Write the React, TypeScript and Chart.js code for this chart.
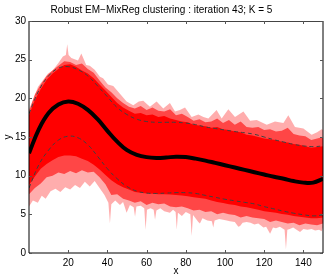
import React, { useEffect, useRef } from 'react';
import { Chart, registerables } from 'chart.js';

Chart.register(...registerables);

const TITLE = 'Robust EM\u2212MixReg clustering : iteration 43; K = 5';
const X_LABEL = 'x';
const Y_LABEL = 'y';
const X_TICKS = [20, 40, 60, 80, 100, 120, 140];
const Y_TICKS = [0, 5, 10, 15, 20, 25, 30];

// mean curve (thick black)
const meanX = [0, 5, 10, 15, 20, 25, 30, 35, 40, 45, 50, 55, 60, 65, 70, 75, 80, 85, 90, 95, 100, 105, 110, 115, 120, 125, 130, 135, 140, 145, 150];
const meanY = [12.9, 16.0, 18.1, 19.2, 19.6, 19.3, 18.5, 17.3, 15.8, 14.4, 13.3, 12.7, 12.4, 12.3, 12.35, 12.45, 12.4, 12.2, 11.95, 11.65, 11.35, 11.05, 10.75, 10.45, 10.15, 9.85, 9.6, 9.3, 9.1, 9.1, 9.6];

// upper / lower dashed bounds
const boundX = [0, 5, 10, 15, 20, 25, 30, 35, 40, 45, 50, 55, 60, 65, 70, 75, 80, 85, 90, 95, 100, 105, 110, 115, 120, 125, 130, 135, 140, 145, 150];
const upperY = [18.0, 21.0, 22.9, 23.9, 24.1, 23.7, 22.9, 21.6, 20.2, 18.8, 17.9, 17.3, 17.0, 16.9, 16.9, 16.9, 16.8, 16.6, 16.3, 16.1, 15.9, 15.7, 15.55, 15.35, 15.0, 14.65, 14.35, 14.05, 13.85, 13.75, 13.85];
const lowerY = [8.4, 11.4, 13.3, 14.6, 15.1, 14.9, 14.0, 12.5, 10.9, 9.6, 8.6, 8.0, 7.75, 7.7, 7.75, 7.8, 7.8, 7.7, 7.45, 7.2, 6.95, 6.75, 6.55, 6.35, 6.0, 5.7, 5.4, 5.15, 4.95, 4.8, 4.9];

// dense red core of the curves
const coreX = [0, 3, 6, 9, 12, 15, 18, 21, 24, 27, 30, 33, 36, 39, 42, 45, 48, 51, 54, 57, 60, 63, 66, 69, 72, 75, 78, 81, 84, 87, 90, 93, 96, 99, 102, 105, 108, 111, 114, 117, 120, 123, 126, 129, 132, 135, 138, 141, 144, 147, 150];
const coreTopY = [17.8, 19.8, 21.2, 22.4, 23.2, 23.8, 24.3, 24.4, 24.1, 23.6, 23.2, 22.6, 21.8, 21.0, 20.2, 19.4, 18.8, 18.4, 18.0, 18.1, 17.8, 17.9, 17.6, 17.7, 17.4, 17.2, 17.0, 16.9, 16.6, 16.5, 16.4, 16.2, 16.3, 16.0, 15.9, 15.7, 15.6, 15.3, 15.2, 15.0, 14.8, 14.7, 14.6, 14.4, 14.3, 14.1, 14.0, 13.8, 13.6, 13.7, 13.8];
const coreBotY = [8.8, 9.9, 10.9, 11.5, 12.0, 12.4, 12.6, 12.6, 12.5, 12.2, 11.9, 11.4, 10.8, 10.1, 9.4, 8.9, 8.5, 8.2, 7.9, 7.8, 7.7, 7.65, 7.6, 7.6, 7.55, 7.5, 7.45, 7.35, 7.2, 7.1, 7.0, 6.8, 6.6, 6.45, 6.3, 6.2, 6.0, 5.9, 5.75, 5.6, 5.4, 5.3, 5.2, 5.05, 4.95, 4.8, 4.7, 4.6, 4.5, 4.5, 4.6];

// medium-density band
const midTopY = [18.3, 20.5, 21.8, 22.9, 23.6, 24.2, 24.8, 24.7, 24.3, 24.5, 23.8, 23.3, 22.3, 21.4, 20.8, 20.0, 19.4, 18.9, 18.7, 19.0, 18.5, 18.8, 18.4, 18.3, 18.6, 17.8, 18.0, 17.6, 17.1, 17.3, 16.9, 17.0, 17.4, 16.8, 17.2, 16.6, 17.0, 16.3, 16.2, 16.3, 15.9, 16.0, 15.7, 15.8, 16.2, 15.4, 15.2, 15.1, 14.6, 14.8, 15.0];
const midBotY = [7.6, 8.4, 9.0, 9.8, 10.0, 10.4, 10.2, 10.6, 10.3, 10.7, 10.4, 10.5, 9.8, 8.9, 7.5, 7.6, 7.0, 6.8, 6.5, 6.7, 6.2, 6.5, 6.3, 6.4, 6.0, 5.9, 6.0, 5.8, 5.5, 5.6, 5.3, 5.4, 5.0, 5.2, 5.0, 4.9, 4.6, 4.8, 4.6, 4.5, 4.4, 4.0, 4.2, 4.0, 3.8, 3.9, 3.6, 3.8, 3.7, 3.6, 3.8];

// sparse outer envelope (upper edge)
const outerTopX = [0, 2, 4.6, 7, 9.7, 12, 14.8, 17.3, 18.8, 19.5, 20.2, 21.6, 25, 26.7, 29.2, 31, 33.5, 36.2, 37.8, 40.3, 43, 46.4, 49.8, 53.2, 56, 58.3, 61.7, 65.1, 68.5, 71.9, 74.5, 77, 79.6, 83, 86.4, 89, 91.5, 95.7, 98.3, 101.7, 105.1, 109.4, 112.8, 116.2, 121.3, 125.5, 129.8, 132.3, 135.7, 140, 144.2, 147, 149.3, 150];
const outerTopY = [18.6, 19.8, 21.5, 22.3, 23.2, 23.6, 24.5, 25.4, 25.6, 27.0, 25.6, 25.2, 24.9, 25.8, 24.3, 24.2, 23.7, 22.8, 22.6, 21.8, 21.6, 20.6, 19.6, 19.1, 19.6, 19.7, 18.9, 19.6, 18.7, 19.4, 18.3, 18.5, 18.8, 17.6, 17.9, 17.6, 17.4, 18.5, 17.4, 18.6, 17.6, 18.3, 17.1, 17.2, 16.6, 17.0, 16.8, 17.8, 16.3, 16.1, 15.3, 15.6, 16.0, 15.9];

// sparse outer envelope (lower edge, with the deepest dips)
const outerBotX = [0, 2, 4.5, 6.5, 8.5, 11, 13.5, 16, 18.5, 21, 23.5, 26, 28.5, 31, 33.5, 36, 38.5, 40.5, 41.3, 42, 44, 46.4, 48, 49.8, 51.5, 53.4, 54.1, 54.8, 57, 58.8, 59.5, 60.2, 62, 63.6, 64.3, 65, 67, 69, 71.9, 73.5, 74.8, 75.4, 76, 78, 80, 82.3, 83, 83.7, 86.4, 87.2, 88.5, 91, 93.3, 94, 94.7, 97, 99, 100.9, 102.5, 105, 106.8, 107.7, 109, 111, 113, 115, 117, 119.6, 121, 123, 124.5, 126, 128, 130.4, 131.1, 131.8, 133, 134.8, 136.5, 138.3, 140, 142, 144.2, 146, 148, 149.3, 150];
const outerBotY = [6.0, 6.8, 6.5, 7.4, 7.0, 8.0, 8.3, 7.9, 8.5, 8.2, 8.8, 8.4, 9.2, 8.6, 9.3, 8.4, 7.5, 6.5, 3.8, 6.3, 6.8, 6.2, 6.6, 5.2, 6.2, 5.9, 4.7, 6.0, 6.1, 5.8, 3.0, 5.6, 5.8, 5.6, 4.3, 5.5, 5.8, 5.4, 5.2, 5.6, 5.3, 3.0, 5.2, 4.8, 5.3, 5.0, 2.2, 4.9, 4.0, 3.8, 4.5, 4.2, 4.1, 3.3, 4.2, 4.4, 4.3, 4.2, 4.1, 4.0, 3.4, 3.5, 3.9, 4.0, 3.9, 3.7, 3.8, 3.3, 3.4, 2.5, 3.3, 3.2, 3.4, 3.0, 0.5, 3.0, 3.1, 3.3, 3.0, 2.7, 3.1, 3.0, 3.1, 2.9, 3.0, 2.8, 3.3];

const pts = (xs: number[], ys: number[]) => xs.map((x, i) => ({ x, y: ys[i] }));

const FONT = { family: '"Liberation Sans", Arial, Helvetica, sans-serif', size: 10 };

const boxPlugin = {
  id: 'matlabBox',
  afterDraw(chart: any) {
    const { ctx, chartArea: a, scales } = chart;
    const L = a.left, R = a.right, T = a.top, B = a.bottom;
    ctx.save();
    ctx.lineWidth = 1;
    ctx.strokeStyle = '#000';
    ctx.beginPath();
    ctx.moveTo(L, T); ctx.lineTo(L, B);
    ctx.moveTo(L, B); ctx.lineTo(R, B);
    ctx.moveTo(R, T); ctx.lineTo(R, B);
    ctx.stroke();
    ctx.strokeStyle = '#444';
    ctx.beginPath();
    ctx.moveTo(L, T + 0.5); ctx.lineTo(R, T + 0.5);
    ctx.stroke();
    ctx.strokeStyle = '#555';
    ctx.beginPath();
    for (const v of X_TICKS) {
      const px = Math.round(scales.x.getPixelForValue(v)) + 0.5;
      ctx.moveTo(px, B); ctx.lineTo(px, B - 3);
      ctx.moveTo(px, T); ctx.lineTo(px, T + 3);
    }
    for (const v of Y_TICKS) {
      const py = Math.round(scales.y.getPixelForValue(v)) + 0.5;
      ctx.moveTo(L, py); ctx.lineTo(L + 3, py);
      ctx.moveTo(R, py); ctx.lineTo(R - 3, py);
    }
    ctx.stroke();
    ctx.restore();
  },
};

export default function App() {
  const ref = useRef<HTMLCanvasElement | null>(null);

  useEffect(() => {
    if (!ref.current) return;
    const band = (data: any, color: string, target: number, order: number) => ({
      data,
      borderWidth: 0,
      borderColor: 'rgba(0,0,0,0)',
      backgroundColor: color,
      pointRadius: 0,
      tension: 0,
      fill: target >= 0 ? { target } : false,
      order,
    });
    const chart = new Chart(ref.current, {
      type: 'line',
      data: {
        datasets: [
          {
            data: pts(meanX, meanY),
            borderColor: '#000',
            borderWidth: 4,
            pointRadius: 0,
            tension: 0.4,
            fill: false,
            order: 1,
          } as any,
          {
            data: pts(boundX, upperY),
            borderColor: '#404040',
            borderWidth: 1,
            borderDash: [4, 3],
            pointRadius: 0,
            tension: 0.4,
            fill: false,
            order: 2,
          },
          {
            data: pts(boundX, lowerY),
            borderColor: '#404040',
            borderWidth: 1,
            borderDash: [4, 3],
            pointRadius: 0,
            tension: 0.4,
            fill: false,
            order: 2,
          },
          band(pts(coreX, coreTopY), '#ff0000', 4, 4),
          band(pts(coreX, coreBotY), '#ff0000', -1, 4),
          band(pts(coreX, midTopY), 'rgba(255,0,0,0.6)', 6, 5),
          band(pts(coreX, midBotY), 'rgba(255,0,0,0.6)', -1, 5),
          band(pts(outerTopX, outerTopY), 'rgba(255,0,0,0.32)', 8, 6),
          band(pts(outerBotX, outerBotY), 'rgba(255,0,0,0.32)', -1, 6),
        ] as any,
      },
      options: {
        animation: false,
        responsive: false,
        devicePixelRatio: 1,
        layout: { padding: { left: 0, right: 4, top: 0, bottom: 0 } },
        plugins: {
          legend: { display: false },
          tooltip: { enabled: false },
          title: {
            display: true,
            text: TITLE,
            color: '#000',
            font: { ...FONT, weight: 'normal' },
            padding: { top: 4.5, bottom: 4.5 },
          },
        },
        scales: {
          x: {
            type: 'linear',
            min: 0,
            max: 150,
            grid: { display: false, drawTicks: false },
            border: { display: false },
            afterBuildTicks: (s: any) => { s.ticks = X_TICKS.map((v) => ({ value: v })); },
            afterFit: (s: any) => { s.height = 26; },
            ticks: { color: '#000', font: FONT, padding: 4, maxRotation: 0, autoSkip: false },
            title: { display: true, text: X_LABEL, color: '#000', font: FONT, padding: { top: 0, bottom: 2 } },
          },
          y: {
            type: 'linear',
            min: 0,
            max: 30,
            grid: { display: false, drawTicks: false },
            border: { display: false },
            afterBuildTicks: (s: any) => { s.ticks = Y_TICKS.map((v) => ({ value: v })); },
            afterFit: (s: any) => { s.width = 29; },
            ticks: { color: '#000', font: FONT, padding: 3, autoSkip: false },
            title: { display: true, text: Y_LABEL, color: '#000', font: FONT, padding: { top: 2.5, bottom: 0 } },
          },
        },
      } as any,
      plugins: [boxPlugin],
    });
    return () => chart.destroy();
  }, []);

  return (
    <div style={{ position: 'fixed', left: 0, top: 0, width: 327, height: 279, background: '#fff' }}>
      <canvas ref={ref} width={327} height={279} style={{ display: 'block', width: 327, height: 279 }} />
    </div>
  );
}
